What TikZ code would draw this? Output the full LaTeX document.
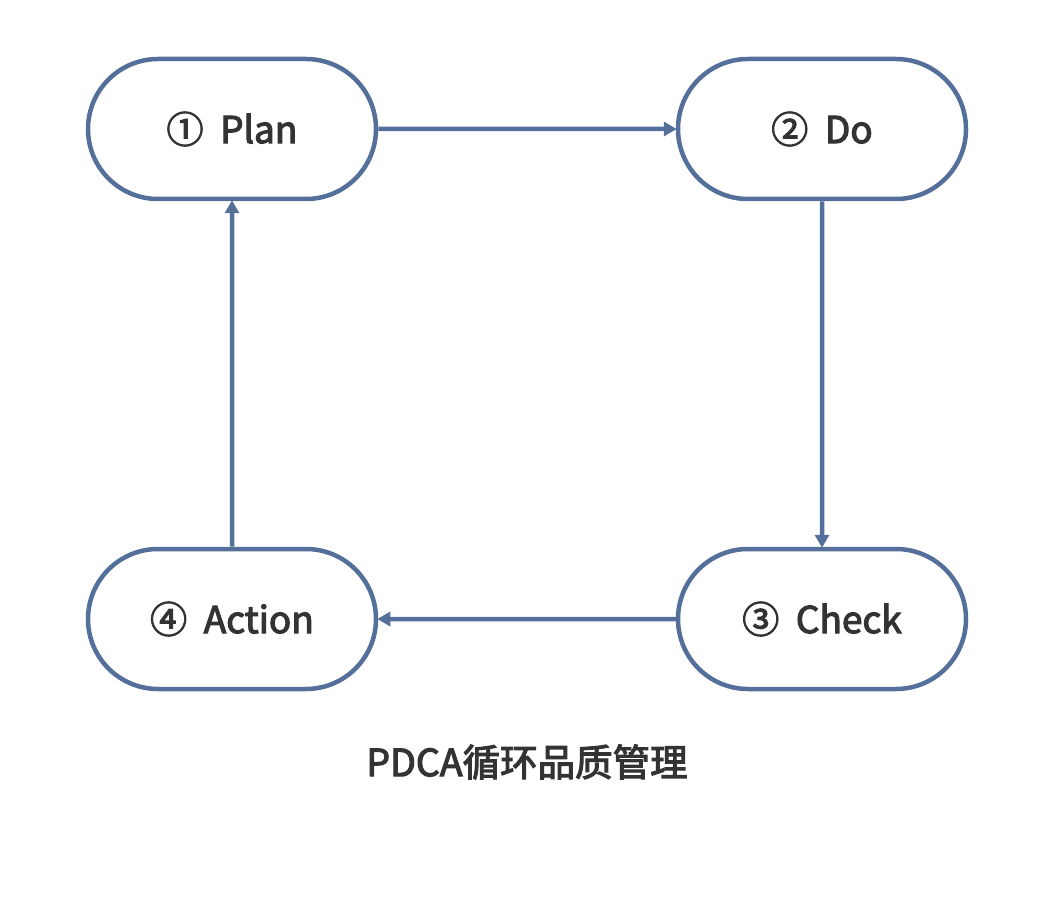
\documentclass[tikz,border=0pt]{standalone}
\usepackage{fontspec}
\setmainfont{Noto Sans CJK SC}[FakeBold=3]
\usetikzlibrary{arrows.meta,shapes.misc}
\definecolor{edge}{HTML}{54709A}
\definecolor{txt}{HTML}{333333}
\tikzset{
  stage/.style={rounded rectangle, draw=edge, line width=4.5pt, fill=white,
    minimum width=288pt, minimum height=140pt, inner sep=0pt,
    font=\fontsize{37}{40}\selectfont, text=txt},
  flow/.style={draw=edge, line width=4.5pt, -{Triangle[length=13pt,width=14pt]}, shorten >=-1pt}
}
\newcommand{\gapnum}[1]{#1\hspace{0.45em}}
\begin{document}
\begin{tikzpicture}[x=1pt,y=-1pt]
\useasboundingbox (0,0) rectangle (1054,917);
\node[stage] (plan) at (232,129) {\gapnum{①}Plan};
\node[stage] (do) at (822,129) {\gapnum{②}Do};
\node[stage] (check) at (822,619) {\gapnum{③}Check};
\node[stage] (action) at (232,619) {\gapnum{④}Action};
\node[font=\fontsize{37.5}{40}\selectfont, text=txt] (cap) at (527,762) {PDCA循环品质管理};
\draw[flow] (plan) -- (do);
\draw[flow] (do) -- (check);
\draw[flow] (check) -- (action);
\draw[flow] (action) -- (plan);
\end{tikzpicture}
\end{document}
